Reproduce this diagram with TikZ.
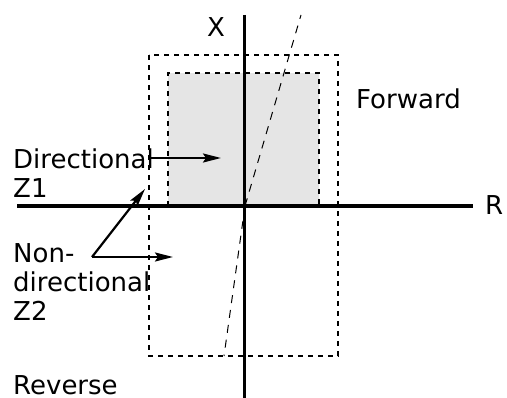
\documentclass[tikz,border=0pt]{standalone}
\usepackage{fontspec}
\setmainfont{DejaVu Sans}
\usetikzlibrary{arrows.meta}
\begin{document}
\begin{tikzpicture}[x=1pt,y=-1pt,
  axis/.style={line width=3.2pt},
  zone/.style={line width=2pt, dash pattern=on 5pt off 5pt},
  slant/.style={line width=1pt, dash pattern=on 8pt off 7pt},
  pointer/.style={line width=2.2pt, -{Stealth[length=18pt,width=9pt,inset=3pt]}},
  lbl/.style={font=\fontsize{26}{29}\selectfont, inner sep=0pt, align=left, anchor=base west}]
\useasboundingbox (0,0) rectangle (507,398);
% shaded directional zone
\fill[black!10] (168,73) rectangle (319,206);
% coordinates
\coordinate (o) at (245,206);
\coordinate (s1) at (301,15);
\coordinate (s2) at (224,356);
\coordinate (d0) at (150,158);
\coordinate (d1) at (221,158);
\coordinate (n0) at (92,257);
\coordinate (n1) at (173,257);
\coordinate (n2) at (145,189);
% axes
\draw[axis] (17,206) -- (473,206);
\draw[axis] (244.5,15) -- (244.5,398);
% zones
\draw[zone] (149,55) rectangle (338,356);
\draw[zone] (168,206) -- (168,73) -- (319,73) -- (319,206);
% slanted characteristic
\draw[slant] (o) -- (s1);
\draw[slant] (o) -- (s2);
% labels
\node[lbl] (X) at (207,37) {X};
\node[lbl] (R) at (485,215) {R};
\node[lbl] (fwd) at (356,109) {Forward};
\node[lbl] (dir) at (13,197.5) {Directional\\Z1};
\node[lbl] (ndir) at (13,321) {Non-\\directional\\Z2};
\node[lbl] (rev) at (13,394.5) {Reverse};
% pointers
\draw[pointer] (d0) -- (d1);
\draw[pointer] (n0) -- (n1);
\draw[pointer] (n0) -- (n2);
\end{tikzpicture}
\end{document}
